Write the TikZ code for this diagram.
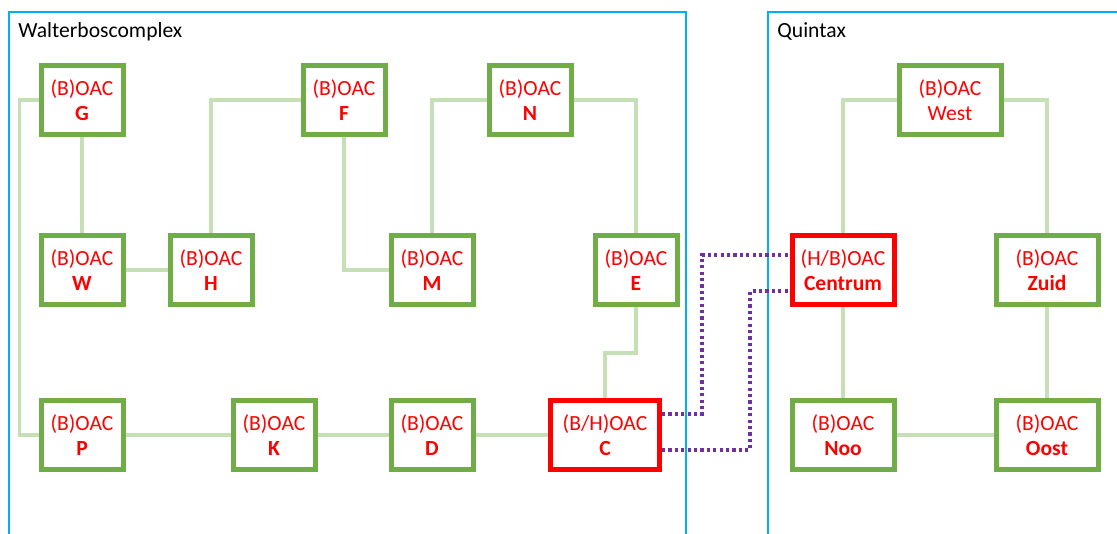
\documentclass[tikz,border=0pt]{standalone}
\usepackage{fontspec}
\setmainfont{Carlito}
\usepackage{tikz}
\usetikzlibrary{calc}

\definecolor{boxgreen}{HTML}{70AD47}
\definecolor{linkgreen}{HTML}{C5E0B4}
\definecolor{boxred}{HTML}{FF0000}
\definecolor{dotpurple}{HTML}{7030A0}
\definecolor{framblue}{HTML}{00B0F0}

\tikzset{
	oac/.style={draw=boxgreen, line width=2.5pt, fill=white, text=boxred, align=center,
		minimum width=41pt, minimum height=34.5pt, inner sep=0pt,
		font=\fontsize{10.8}{12.5}\selectfont},
	oacwide/.style={oac, minimum width=51pt},
	oacred/.style={draw=boxred},
	link/.style={draw=linkgreen, line width=1.7pt},
	dotlink/.style={draw=dotpurple, line width=1.7pt, dash pattern=on 1.6pt off 1.6pt},
	frame/.style={draw=framblue, line width=0.6pt},
	framelabel/.style={anchor=base west, inner sep=0pt, font=\fontsize{10.8}{12.5}\selectfont}
}

\begin{document}
\begin{tikzpicture}[x=0.5pt,y=-0.5pt]
	\useasboundingbox (0,0) rectangle (1117,534);

	%frames
	\draw[frame] (9,540) -- (9,12) -- (686,12) -- (686,540);	%Walterbos
	\draw[frame] (768,540) -- (768,12) -- (1125,12);			%Quintax
		\node[framelabel] (lblW) at (18,38) {Walterboscomplex};
		\node[framelabel] (lblQ) at (777,38) {Quintax};

	%top row
	\node[oac] (G) at (82,100) {(B)OAC\\\textbf{G}};
	\node[oac] (F) at (344,100) {(B)OAC\\\textbf{F}};
	\node[oac] (N) at (530,100) {(B)OAC\\\textbf{N}};
	\node[oacwide] (West) at (950,100) {(B)OAC\\West};

	%middle row
	\node[oac] (W) at (82,270) {(B)OAC\\\textbf{W}};
	\node[oac] (H) at (211,270) {(B)OAC\\\textbf{H}};
	\node[oac] (M) at (432,270) {(B)OAC\\\textbf{M}};
	\node[oac] (E) at (636,270) {(B)OAC\\\textbf{E}};
	\node[oacwide,oacred] (Centrum) at (843,270) {(H/B)OAC\\\textbf{Centrum}};
	\node[oacwide] (Zuid) at (1047,270) {(B)OAC\\\textbf{Zuid}};

	%bottom row
	\node[oac] (P) at (82,435) {(B)OAC\\\textbf{P}};
	\node[oac] (K) at (274,435) {(B)OAC\\\textbf{K}};
	\node[oac] (D) at (432,435) {(B)OAC\\\textbf{D}};
	\node[oac,oacred,minimum width=54.5pt] (C) at (605,435) {(B/H)OAC\\\textbf{C}};
	\node[oacwide] (Noo) at (843,435) {(B)OAC\\\textbf{Noo}};
	\node[oacwide] (Oost) at (1047,435) {(B)OAC\\\textbf{Oost}};

	%green links - Walterbos
	\draw[link] (G) -- (W);
	\draw[link] (G.west) -- ++(-19,0) |- (P.west);
	\draw[link] (W) -- (H);
	\draw[link] (H.north) |- (F.west);
	\draw[link] (F.south) |- (M.west);
	\draw[link] (N.west) -| (M.north);
	\draw[link] (N.east) -| (E.north);
	\draw[link] (E.south) -- ++(0,46) -| (C.north);
	\draw[link] (P) -- (K);
	\draw[link] (K) -- (D);
	\draw[link] (D) -- (C);

	%green links - Quintax
	\draw[link] (West.west) -| (Centrum.north);
	\draw[link] (West.east) -| (Zuid.north);
	\draw[link] (Centrum) -- (Noo);
	\draw[link] (Zuid) -- (Oost);
	\draw[link] (Noo) -- (Oost);

	%dotted links C - Centrum
	\coordinate (via1) at (702,330);
	\coordinate (via2) at (750,370);
	\draw[dotlink] ($(C.east)+(0,-21)$) -| (via1) |- ($(Centrum.west)+(0,-15)$);
	\draw[dotlink] ($(C.east)+(0,15)$) -| (via2) |- ($(Centrum.west)+(0,21)$);
\end{tikzpicture}
\end{document}
